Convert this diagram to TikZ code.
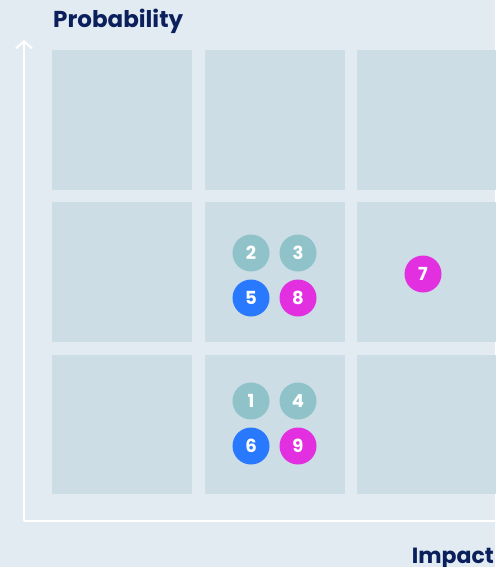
\documentclass[tikz,border=0pt]{standalone}
\usepackage{fontspec}
\setmainfont{Poppins}
\usetikzlibrary{arrows.meta}
\definecolor{bg}{HTML}{E1EBF1}
\definecolor{cell}{HTML}{CCDDE5}
\definecolor{navy}{HTML}{0B1F5C}
\definecolor{teal}{HTML}{8FC3C9}
\definecolor{bluec}{HTML}{2979FF}
\definecolor{mag}{HTML}{E22FE0}
\tikzset{
  cellbox/.style={fill=cell, draw=none},
  dot/.style={circle, minimum size=37pt, inner sep=0pt, text=white, font=\fontsize{18}{18}\selectfont\bfseries},
  axis/.style={draw=white, line width=2.5pt},
  title/.style={text=navy, font=\fontsize{23}{23}\selectfont\bfseries, inner sep=0pt}
}
\begin{document}
\begin{tikzpicture}[x=1pt,y=-1pt]
\useasboundingbox (0,0) rectangle (495,567);
\fill[bg] (0,0) rectangle (495,567);
% cells
\foreach \cx/\cxe in {52/192,205/345,357/497}{
  \foreach \cy/\cye in {50/190,202/342,355/494}{
    \fill[cellbox] (\cx,\cy) rectangle (\cxe,\cye);
  }
}
% axes
\coordinate (origin) at (24,521);
\coordinate (ytop) at (24,40);
\coordinate (xend) at (497,521);
\draw[axis, -{Straight Barb[length=7pt,width=16pt,line width=2pt]}] (origin) -- (ytop);
\draw[axis] (origin) -- (xend);
% labels
\node[title, anchor=base west] (prob) at (53,28) {Probability};
\node[title, anchor=base east, font=\fontsize{22}{22}\selectfont\bfseries] (imp) at (494,563) {Impact};
% dots
\node[dot, fill=teal] (d2) at (251,253) {2};
\node[dot, fill=teal] (d3) at (298,253) {3};
\node[dot, fill=bluec] (d5) at (251,298) {5};
\node[dot, fill=mag] (d8) at (298,298) {8};
\node[dot, fill=mag] (d7) at (423,274) {7};
\node[dot, fill=teal] (d1) at (251,401) {1};
\node[dot, fill=teal] (d4) at (298,401) {4};
\node[dot, fill=bluec] (d6) at (251,446) {6};
\node[dot, fill=mag] (d9) at (298,446) {9};
\end{tikzpicture}
\end{document}
